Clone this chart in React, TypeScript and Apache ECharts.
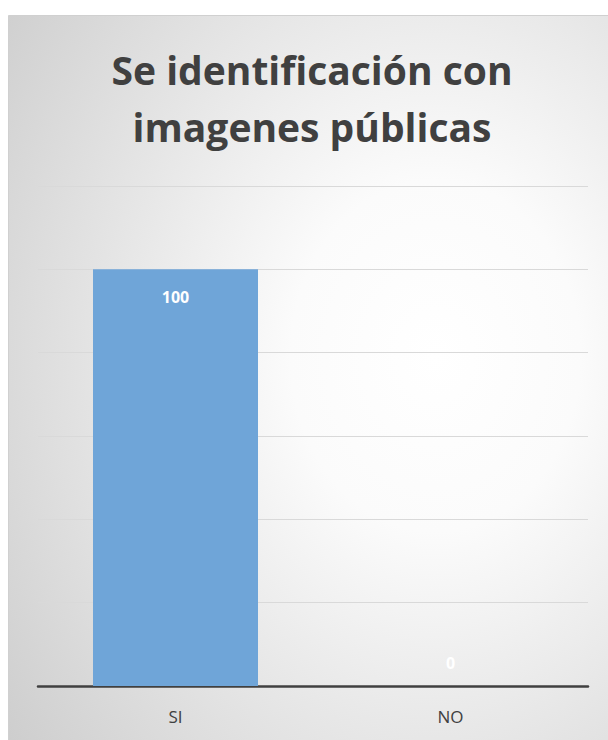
import React, { useEffect, useRef } from "react";
import * as echarts from "echarts";

const categories = ["SI", "NO"];
const values = [100, 0];
const titleText = "Se identificación con\nimagenes públicas";
const yTicks = [0, 20, 40, 60, 80, 100, 120];

export default function App() {
  const ref = useRef<HTMLDivElement>(null);
  useEffect(() => {
    if (!ref.current) return;
    const chart = echarts.init(ref.current, null, { renderer: "svg" });
    chart.setOption({
      animation: false,
      graphic: [
        {
          type: "rect",
          z: -10,
          silent: true,
          shape: { x: 8.5, y: 15.5, width: 610, height: 740 },
          style: {
            fill: new echarts.graphic.RadialGradient(0.7, 0.46, 0.95, [
              { offset: 0, color: "#ffffff" },
              { offset: 0.25, color: "#fbfbfb" },
              { offset: 1, color: "#c8c8c8" },
            ]),
            stroke: "#d0d0d0",
            lineWidth: 1,
          },
        },
      ],
      title: {
        text: titleText,
        left: 312,
        textAlign: "center",
        top: 41,
        padding: 0,
        textStyle: {
          fontFamily: "Open Sans",
          fontWeight: 700,
          fontSize: 39,
          lineHeight: 57,
          color: "#404040",
        },
      },
      grid: { left: 38, right: 20, top: 186, bottom: 54 },
      xAxis: {
        type: "category",
        data: categories,
        axisLine: { lineStyle: { color: "#404040", width: 2.5 } },
        axisTick: { show: false },
        axisLabel: {
          color: "#404040",
          fontSize: 17,
          fontFamily: "Open Sans",
          margin: 22,
        },
      },
      yAxis: {
        type: "value",
        min: yTicks[0],
        max: yTicks[yTicks.length - 1],
        interval: 20,
        axisLabel: { show: false },
        axisLine: { show: false },
        axisTick: { show: false },
        splitLine: { lineStyle: { color: "#d9d9d9", width: 1 } },
      },
      series: [
        {
          type: "bar",
          barWidth: "60%",
          data: values.map((v) =>
            v === 0
              ? { value: v, label: { position: "top", distance: 15 } }
              : { value: v }
          ),
          itemStyle: { color: "#6fa5d8" },
          label: {
            show: true,
            position: "insideTop",
            distance: 20,
            color: "#ffffff",
            fontWeight: 700,
            fontSize: 16,
            fontFamily: "Open Sans",
          },
        },
      ],
    });
    return () => chart.dispose();
  }, []);
  return (
    <div
      ref={ref}
      style={{ position: "absolute", left: 0, top: 0, width: 608, height: 740 }}
    />
  );
}
